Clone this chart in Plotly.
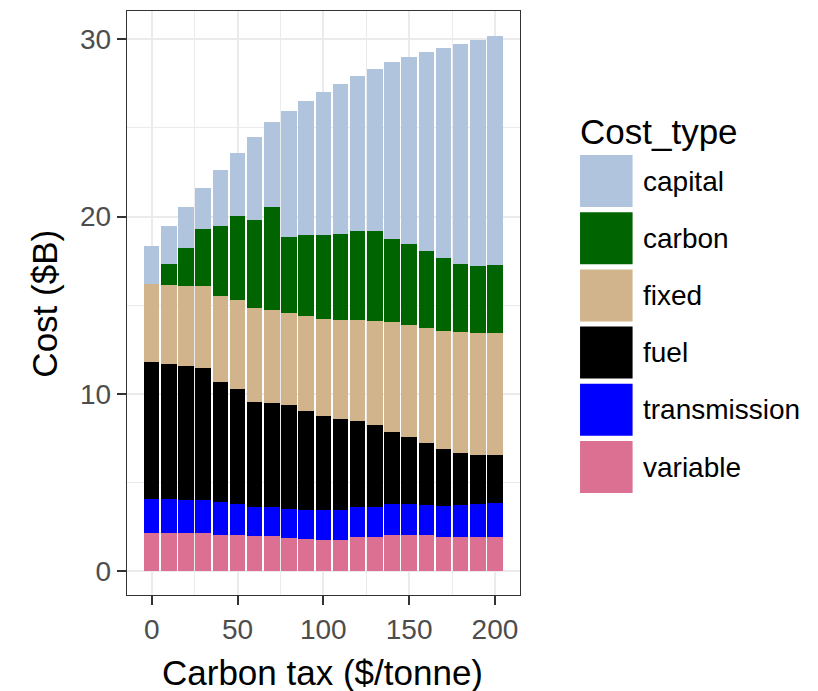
import plotly.graph_objects as go

# Carbon tax levels ($/tonne)
carbon_tax = list(range(0, 201, 10))

# Cost components ($B) per carbon tax level
variable = [2.16, 2.16, 2.15, 2.15, 2.03, 2.03, 1.98, 1.98, 1.83, 1.79, 1.75,
            1.75, 1.94, 1.90, 2.03, 2.02, 2.00, 1.94, 1.94, 1.94, 1.94]
transmission = [1.89, 1.89, 1.85, 1.85, 1.87, 1.76, 1.65, 1.65, 1.65, 1.66, 1.68,
                1.66, 1.66, 1.70, 1.72, 1.73, 1.71, 1.74, 1.77, 1.81, 1.88]
fuel = [7.72, 7.64, 7.54, 7.47, 6.74, 6.47, 5.92, 5.84, 5.88, 5.55, 5.31,
        5.16, 4.87, 4.61, 4.10, 3.80, 3.50, 3.21, 2.94, 2.80, 2.70]
fixed = [4.43, 4.47, 4.52, 4.59, 4.90, 5.05, 5.27, 5.28, 5.20, 5.41, 5.49,
         5.61, 5.71, 5.88, 6.18, 6.35, 6.50, 6.67, 6.81, 6.88, 6.91]
carbon = [0.00, 1.18, 2.17, 3.24, 3.91, 4.71, 5.01, 5.80, 4.31, 4.52, 4.75,
          4.86, 5.03, 5.12, 4.71, 4.56, 4.37, 4.09, 3.87, 3.76, 3.84]
capital = [2.16, 2.10, 2.30, 2.32, 3.17, 3.58, 4.67, 4.76, 7.10, 7.61, 8.06,
           8.46, 8.72, 9.13, 9.98, 10.54, 11.22, 11.88, 12.43, 12.77, 12.92]

cost_types = ["capital", "carbon", "fixed", "fuel", "transmission", "variable"]
series = {
    "capital": capital,
    "carbon": carbon,
    "fixed": fixed,
    "fuel": fuel,
    "transmission": transmission,
    "variable": variable,
}
colors = {
    "capital": "#b0c4de",
    "carbon": "#006400",
    "fixed": "#d2b48c",
    "fuel": "#000000",
    "transmission": "#0000ff",
    "variable": "#db7093",
}

FONT = "Liberation Sans, Arial, sans-serif"
W, H = 818, 691
PL, PR, PT, PB = 127.3, 520.0, 11.0, 595.0  # panel edges in pixels


def px_x(p):
    return (p - PL) / (PR - PL)


def px_y(p):
    return (PB - p) / (PB - PT)


fig = go.Figure()

# stack from the bottom up
for name in reversed(cost_types):
    fig.add_trace(go.Bar(
        x=carbon_tax, y=series[name], name=name, width=9,
        marker=dict(color=colors[name], line=dict(width=0)),
        showlegend=False,
    ))

axis_common = dict(
    ticks="outside", ticklen=9, tickwidth=1.5, tickcolor="#333333",
    tickfont=dict(family=FONT, size=28, color="#4d4d4d"),
    showgrid=True, gridcolor="#ebebeb", gridwidth=1.6,
    showline=True, mirror=True, linecolor="#333333", linewidth=1.4,
    zeroline=False,
)

fig.update_layout(
    width=W, height=H,
    margin=dict(l=PL, r=W - PR, t=PT, b=H - PB, pad=0),
    barmode="stack",
    plot_bgcolor="white", paper_bgcolor="white",
    font=dict(family=FONT),
    xaxis=dict(range=[-14.4, 214.6], tickvals=[0, 50, 100, 150, 200],
               minor=dict(tickvals=[25, 75, 125, 175], showgrid=True,
                          gridcolor="#ebebeb", gridwidth=0.9, ticks=""),
               **axis_common),
    yaxis=dict(range=[-1.36, 31.6], tickvals=[0, 10, 20, 30],
               minor=dict(tickvals=[5, 15, 25], showgrid=True,
                          gridcolor="#ebebeb", gridwidth=0.9, ticks=""),
               **axis_common),
)

annotations = [
    dict(text="Carbon tax ($/tonne)", x=px_x(323), y=px_y(672),
         xanchor="center", yanchor="middle",
         font=dict(family=FONT, size=35, color="black")),
    dict(text="Cost ($B)", x=px_x(44), y=px_y(304), textangle=-90,
         xanchor="center", yanchor="middle",
         font=dict(family=FONT, size=35, color="black")),
    dict(text="Cost_type", x=px_x(578), y=px_y(131),
         xanchor="left", yanchor="middle",
         font=dict(family=FONT, size=35, color="black")),
]

# legend keys
shapes = []
key_top, key_h, key_step = 155, 52, 57.2
for i, name in enumerate(cost_types):
    top = key_top + i * key_step
    shapes.append(dict(type="rect", xref="paper", yref="paper",
                       x0=px_x(580), x1=px_x(632.5),
                       y0=px_y(top + key_h), y1=px_y(top),
                       fillcolor=colors[name], line=dict(width=0)))
    annotations.append(dict(text=name, x=px_x(641), y=px_y(top + key_h / 2),
                            xanchor="left", yanchor="middle",
                            font=dict(family=FONT, size=28, color="black")))

for a in annotations:
    a.update(xref="paper", yref="paper", showarrow=False)

fig.update_layout(annotations=annotations, shapes=shapes)

fig.write_html("out.html")
